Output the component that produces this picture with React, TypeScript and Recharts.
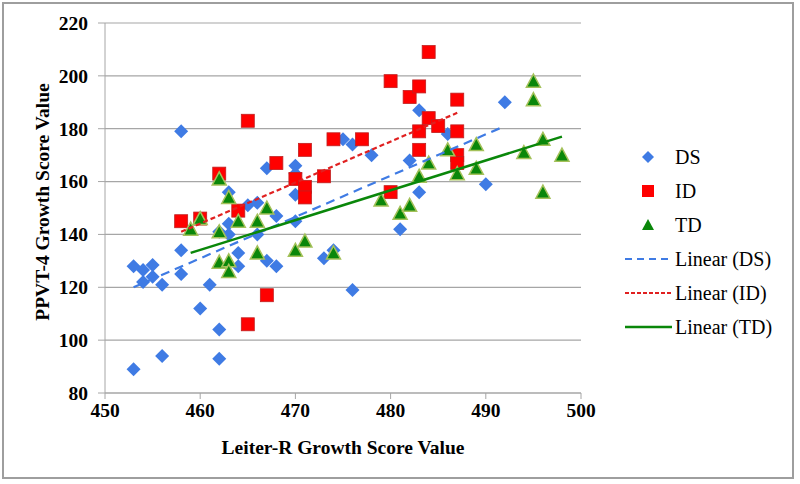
import { ScatterChart, Scatter, XAxis, YAxis, CartesianGrid } from "recharts";

// Leiter-R growth score (x) vs PPVT-4 growth score (y), per group
const dsLeiter = [453, 456, 462, 462, 460, 461, 456, 453, 454, 455, 455, 454, 458, 458, 458, 462, 463, 463, 463, 464, 464, 465, 466, 466, 467, 467, 468, 468, 470, 470, 470, 470, 473, 474, 475, 476, 476, 478, 481, 482, 483, 483, 486, 490, 492];
const dsPpvt = [89, 94, 93, 104, 112, 121, 121, 128, 126.5, 128.4, 124, 122, 125, 134, 179, 141, 144, 156, 140, 133, 128, 151, 152, 140, 165, 130, 128, 147, 166, 163, 155, 145, 131, 134, 176, 174, 119, 170, 142, 168, 187, 156, 178, 159, 190];

const idLeiter = [458, 460, 462, 464, 465, 465, 467, 468, 470, 471, 471, 471, 473, 474, 477, 480, 480, 482, 483, 483, 483, 484, 484, 485, 487, 487, 487, 487];
const idPpvt = [145, 146, 163, 149, 183, 106, 117, 167, 161, 172, 158, 154, 162, 176, 176, 198, 156, 192, 196, 179, 172, 209, 184, 181, 191, 179, 170, 167];

const tdLeiter = [459, 460, 462, 463, 462, 464, 466, 467, 462, 463, 463, 466, 470, 471, 474, 479, 481, 482, 483, 484, 486, 487, 489, 489, 494, 495, 495, 496, 496, 498];
const tdPpvt = [142, 146, 161, 154, 141, 145, 145, 150, 129.5, 130, 126, 133, 134, 137.5, 133, 153, 148, 151, 162, 167, 172, 163, 174, 165, 171, 198, 191, 176, 156, 170];

// linear trend line end points
const dsTrendX = [453, 492];
const dsTrendY = [120, 181];
const idTrendX = [458, 487];
const idTrendY = [141, 186];
const tdTrendX = [459, 498];
const tdTrendY = [133, 177];

const xTicks = [450, 460, 470, 480, 490, 500];
const yTicks = [80, 100, 120, 140, 160, 180, 200, 220];

const BLUE = "#3F7BE4";
const RED = "#FF0000";
const GREEN = "#0A870A";
const GREEN_EDGE = "#A4C15A";
const GRAY = "#A6A6A6";
const FONT = "'Liberation Serif', 'Times New Roman', serif";

const toPoints = (xs: number[], ys: number[]) => xs.map((x, i) => ({ x, y: ys[i] }));

const Diamond = ({ cx, cy }: any) => (
  <polygon points={`${cx},${cy - 7} ${cx + 7},${cy} ${cx},${cy + 7} ${cx - 7},${cy}`} fill={BLUE} />
);

const Square = ({ cx, cy }: any) => (
  <rect x={cx - 6.5} y={cy - 6.5} width={13} height={13} fill={RED} stroke="#C02020" strokeWidth={0.8} />
);

const Triangle = ({ cx, cy }: any) => (
  <polygon
    points={`${cx},${cy - 7} ${cx + 7},${cy + 6} ${cx - 7},${cy + 6}`}
    fill={GREEN}
    stroke={GREEN_EDGE}
    strokeWidth={1.5}
  />
);

const NoMark = () => <g />;

const legendRows = [
  { name: "DS", kind: "diamond" },
  { name: "ID", kind: "square" },
  { name: "TD", kind: "triangle" },
  { name: "Linear (DS)", kind: "dsLine" },
  { name: "Linear (ID)", kind: "idLine" },
  { name: "Linear (TD)", kind: "tdLine" },
];

const LegendIcon = ({ kind }: { kind: string }) => {
  let icon = null;
  if (kind === "diamond") icon = <polygon points="23,3 29,9 23,15 17,9" fill={BLUE} />;
  if (kind === "square") icon = <rect x={17} y={3} width={12} height={12} fill={RED} />;
  if (kind === "triangle") icon = <polygon points="23,3 29,14 17,14" fill={GREEN} />;
  if (kind === "dsLine") icon = <line x1={0} y1={9} x2={47} y2={9} stroke={BLUE} strokeWidth={2} strokeDasharray="7 5" />;
  if (kind === "idLine") icon = <line x1={0} y1={9} x2={47} y2={9} stroke="#E02020" strokeWidth={2} strokeDasharray="4 2" />;
  if (kind === "tdLine") icon = <line x1={0} y1={9} x2={47} y2={9} stroke={GREEN} strokeWidth={2.5} />;
  return (
    <svg width={47} height={18} style={{ display: "block" }}>
      {icon}
    </svg>
  );
};

const LegendBox = () => (
  <div style={{ position: "absolute", left: 625, top: 140, fontFamily: FONT, fontSize: 20, color: "#000" }}>
    {legendRows.map((r) => (
      <div key={r.name} style={{ display: "flex", alignItems: "center", height: 34 }}>
        <LegendIcon kind={r.kind} />
        <span style={{ marginLeft: 3 }}>{r.name}</span>
      </div>
    ))}
  </div>
);

const tickStyle = { fontFamily: FONT, fontSize: 19.5, fontWeight: "bold", fill: "#000" };

export default function App() {
  return (
    <div style={{ position: "absolute", left: 0, top: 0, width: 800, height: 484, background: "#fff" }}>
      <div
        style={{
          position: "absolute",
          left: 2,
          top: 2,
          width: 792,
          height: 477,
          border: "2px solid #9E9E9E",
          boxSizing: "border-box",
        }}
      />
      <ScatterChart width={800} height={484} margin={{ top: 23, right: 219, bottom: 61, left: 45 }}>
        <CartesianGrid vertical={false} stroke={GRAY} strokeWidth={1.2} />
        <XAxis
          type="number"
          dataKey="x"
          domain={[450, 500]}
          ticks={xTicks}
          interval={0}
          height={30}
          stroke={GRAY}
          tickSize={6}
          tickMargin={4}
          tick={tickStyle}
          label={{
            content: () => (
              <text x={343} y={447} textAnchor="middle" dominantBaseline="central" style={tickStyle}>
                Leiter-R Growth Score Value
              </text>
            ),
          }}
        />
        <YAxis
          type="number"
          dataKey="y"
          domain={[80, 220]}
          ticks={yTicks}
          interval={0}
          width={60}
          stroke={GRAY}
          tickSize={7}
          tickMargin={10}
          tick={tickStyle}
          label={{
            content: () => (
              <text
                x={42}
                y={202}
                transform="rotate(-90 42 202)"
                textAnchor="middle"
                dominantBaseline="central"
                style={tickStyle}
              >
                PPVT-4 Growth Score Value
              </text>
            ),
          }}
        />
        <Scatter name="DS" data={toPoints(dsLeiter, dsPpvt)} shape={<Diamond />} isAnimationActive={false} />
        <Scatter name="ID" data={toPoints(idLeiter, idPpvt)} shape={<Square />} isAnimationActive={false} />
        <Scatter name="TD" data={toPoints(tdLeiter, tdPpvt)} shape={<Triangle />} isAnimationActive={false} />
        <Scatter
          name="Linear (DS)"
          data={toPoints(dsTrendX, dsTrendY)}
          line={{ stroke: BLUE, strokeWidth: 2.2, strokeDasharray: "9 6" }}
          shape={<NoMark />}
          isAnimationActive={false}
        />
        <Scatter
          name="Linear (ID)"
          data={toPoints(idTrendX, idTrendY)}
          line={{ stroke: "#E02020", strokeWidth: 2.2, strokeDasharray: "5 3" }}
          shape={<NoMark />}
          isAnimationActive={false}
        />
        <Scatter
          name="Linear (TD)"
          data={toPoints(tdTrendX, tdTrendY)}
          line={{ stroke: GREEN, strokeWidth: 2.5 }}
          shape={<NoMark />}
          isAnimationActive={false}
        />
      </ScatterChart>
      <LegendBox />
    </div>
  );
}
